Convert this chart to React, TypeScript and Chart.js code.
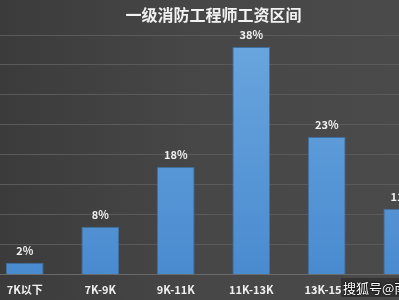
import React, { useEffect, useRef } from "react";
import { Chart, registerables } from "chart.js";

Chart.register(...registerables);

const categories = ["7K以下", "7K-9K", "9K-11K", "11K-13K", "13K-15K", "15K以上"];
const percentValues = [2, 8, 18, 38, 23, 11];
const chartTitle = "一级消防工程师工资区间";
const watermark = "搜狐号@南城消防";

const valueLabelPlugin = {
  id: "valueLabels",
  afterDatasetsDraw(chart: any) {
    const ctx = chart.ctx;
    const meta = chart.getDatasetMeta(0);
    ctx.save();
    ctx.fillStyle = "#f0f0f0";
    ctx.font = "bold 11px 'Noto Sans CJK SC', 'Noto Sans', sans-serif";
    ctx.textAlign = "center";
    ctx.textBaseline = "middle";
    meta.data.forEach((bar: any, i: number) => {
      ctx.fillText(percentValues[i] + "%", bar.x, bar.y - 12);
    });
    ctx.restore();
  },
};

export default function App() {
  const ref = useRef<HTMLCanvasElement | null>(null);
  useEffect(() => {
    if (!ref.current) return;
    const ctx = ref.current.getContext("2d")!;
    const grad = ctx.createLinearGradient(0, 35, 0, 273);
    grad.addColorStop(0, "#6aa6de");
    grad.addColorStop(1, "#4a8bd0");
    const chart = new Chart(ref.current, {
      type: "bar",
      data: {
        labels: categories,
        datasets: [
          {
            data: percentValues,
            backgroundColor: grad,
            borderColor: "#3f6f9f",
            borderWidth: 1,
            categoryPercentage: 1,
            barPercentage: 0.5,
          },
        ],
      },
      options: {
        animation: false,
        responsive: false,
        maintainAspectRatio: false,
        layout: { padding: { top: 0, bottom: 4, left: 0, right: 0 } },
        plugins: {
          legend: { display: false },
          tooltip: { enabled: false },
          title: {
            display: true,
            text: chartTitle,
            color: "#f2f2f2",
            font: { size: 16, weight: "bold", family: "'Noto Sans CJK SC', sans-serif", lineHeight: 1.2 },
            padding: { top: 5.5, bottom: 10.3 },
          },
        },
        scales: {
          x: {
            grid: { display: false, drawTicks: false },
            border: { display: true, color: "#6a6a6a", width: 1 },
            ticks: {
              color: "#f0f0f0",
              padding: 8,
              font: { size: 11, weight: "bold", family: "'Noto Sans CJK SC', sans-serif" },
            },
          },
          y: {
            min: 0,
            max: 40,
            ticks: { display: false, stepSize: 5 },
            grid: { color: "#5a5a5a", drawTicks: false },
            border: { display: false },
          },
        },
      },
      plugins: [valueLabelPlugin],
    });
    return () => chart.destroy();
  }, []);

  return (
    <div
      style={{
        position: "fixed",
        left: 0,
        top: 0,
        width: 399,
        height: 300,
        overflow: "hidden",
        background: "linear-gradient(90deg, #3b3b3b 0%, #474747 50%, #4a4a4a 100%)",
      }}
    >
      <canvas
        ref={ref}
        width={453}
        height={308}
        style={{ position: "absolute", left: -13, top: 0, width: 453, height: 308 }}
      />
      <div
        style={{
          position: "absolute",
          left: 341,
          top: 278,
          padding: "0 2px",
          fontSize: 13,
          fontFamily: "'Noto Sans CJK SC', sans-serif",
          color: "#ffffff",
          whiteSpace: "nowrap",
          background: "rgba(50,50,50,0.92)",
          textShadow: "0 0 2px #000, 0 0 2px #000",
        }}
      >
        {watermark}
      </div>
    </div>
  );
}
